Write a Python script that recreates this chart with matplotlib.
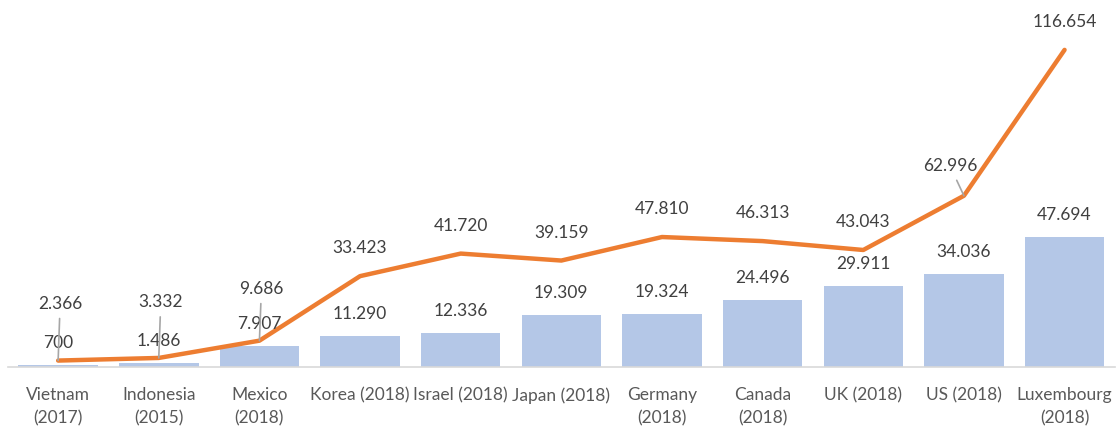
import matplotlib.pyplot as plt

plt.rcParams['font.family'] = ['Lato', 'DejaVu Sans']

countries = ['Vietnam\n(2017)', 'Indonesia\n(2015)', 'Mexico\n(2018)', 'Korea (2018)',
             'Israel (2018)', 'Japan (2018)', 'Germany\n(2018)', 'Canada\n(2018)',
             'UK (2018)', 'US (2018)', 'Luxembourg\n(2018)']
bar_values = [0.700, 1.486, 7.907, 11.290, 12.336, 19.309, 19.324, 24.496, 29.911, 34.036, 47.694]
line_values = [2.366, 3.332, 9.686, 33.423, 41.720, 39.159, 47.810, 46.313, 43.043, 62.996, 116.654]
bar_labels = ['700', '1.486', '7.907', '11.290', '12.336', '19.309', '19.324',
              '24.496', '29.911', '34.036', '47.694']
line_labels = ['2.366', '3.332', '9.686', '33.423', '41.720', '39.159', '47.810',
               '46.313', '43.043', '62.996', '116.654']

# labels that were dragged away from their point get a leader line
moved = {0: (2, 57), 1: (2, 56), 2: (2, 52), 9: (-14, 30)}

fig = plt.figure(figsize=(11.16, 4.26), dpi=100)
ax = fig.add_axes([0.007, 0.1385, 0.992, 0.8615])

x = range(len(countries))
ax.bar(x, bar_values, width=0.79, color='#B4C7E7', zorder=1)
ax.plot(x, line_values, color='#ED7D31', lw=3.2, solid_joinstyle='round',
        solid_capstyle='round', zorder=3)

for i, (v, lab) in enumerate(zip(bar_values, bar_labels)):
    ax.annotate(lab, (i, v), xytext=(0, 22), textcoords='offset pixels',
                ha='center', va='center', fontsize=12.5, color='#404040', zorder=4)

for i, (v, lab) in enumerate(zip(line_values, line_labels)):
    if i in moved:
        ax.annotate(lab, (i, v), xytext=moved[i], textcoords='offset pixels',
                    ha='center', va='center', fontsize=12.5, color='#404040', zorder=4,
                    arrowprops=dict(arrowstyle='-', color='#A6A6A6', lw=1.2,
                                    shrinkA=3, shrinkB=0))
    else:
        ax.annotate(lab, (i, v), xytext=(0, 28), textcoords='offset pixels',
                    ha='center', va='center', fontsize=12.5, color='#404040', zorder=4)

ax.set_xlim(-0.5, len(countries) - 0.5)
ax.set_ylim(0, 135)
ax.set_xticks(list(x))
ax.set_xticklabels(countries, fontsize=12.5, color='#595959', linespacing=1.55)
ax.tick_params(axis='x', length=0, pad=14.5)
ax.set_yticks([])
for side in ['top', 'right', 'left']:
    ax.spines[side].set_visible(False)
ax.spines['bottom'].set_color('#D9D9D9')
ax.spines['bottom'].set_linewidth(1.2)

fig.savefig('out.png', dpi=100)
